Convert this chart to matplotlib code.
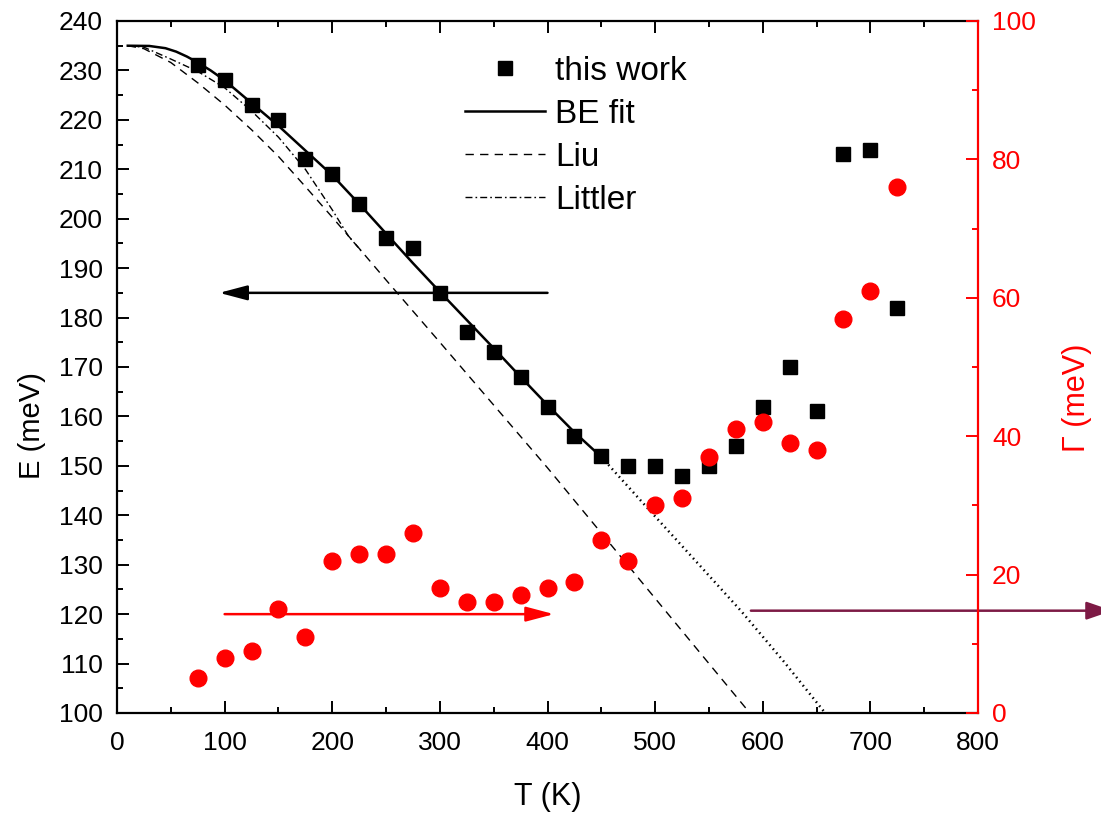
import matplotlib
matplotlib.use("Agg")
import matplotlib.pyplot as plt
from matplotlib.ticker import MultipleLocator

plt.rcParams['font.family'] = ['Liberation Sans', 'DejaVu Sans']

# measured peak energy and broadening vs temperature
T_exp = [75, 100, 125, 150, 175, 200, 225, 250, 275, 300, 325, 350, 375, 400,
         425, 450, 475, 500, 525, 550, 575, 600, 625, 650, 675, 700, 725]
E_exp = [231, 228, 223, 220, 212, 209, 203, 196, 194, 185, 177, 173, 168, 162,
         156, 152, 150, 150, 148, 150, 154, 162, 170, 161, 213, 214, 182]
G_exp = [5, 8, 9, 15, 11, 22, 23, 23, 26, 18, 16, 16, 17, 18,
         19, 25, 22, 30, 31, 37, 41, 42, 39, 38, 57, 61, 76]

# Bose-Einstein fit (solid part) and its extrapolation (dotted)
T_be = [10, 30, 45, 55, 65, 75, 87, 100, 125, 150, 175, 200, 225, 250, 275,
        300, 325, 350, 375, 400, 425, 450]
E_be = [235, 234.95, 234.5, 233.8, 232.8, 231.6, 230, 228, 223.4, 218.8, 213.8,
        208.8, 203, 197, 191, 185.2, 179.5, 173.8, 168, 162.3, 156.8, 151.8]
T_ext = [450, 494, 540, 580, 620, 658]
E_ext = [151.8, 141.2, 130.2, 120.6, 110.3, 100]

# literature curves
T_liu = [10, 25, 50, 75, 100, 125, 150, 175, 200, 225, 250, 275, 300, 350,
         400, 450, 500, 550, 588]
E_liu = [235, 234.4, 231.6, 227.5, 223, 218, 212.6, 206.5, 200.3, 194, 187.6,
         181.3, 175, 162.3, 149.6, 136.4, 123.2, 110, 100]
T_lit = [10, 25, 50, 75, 100, 125, 150, 175, 200, 215, 228]
E_lit = [235, 234.7, 232.3, 229.8, 226.5, 221.8, 216.5, 210, 201.8, 196.5, 193.2]

RED = '#ff0000'
PURPLE = '#7d1a45'

fig = plt.figure(figsize=(11.01, 8.14), dpi=100)
ax = fig.add_axes([117 / 1101, 1 - 713 / 814, 861 / 1101, 692 / 814])
ax2 = ax.twinx()

ax.plot(T_exp, E_exp, 's', color='k', ms=10.5, label='this work')
ax.plot(T_be, E_be, '-', color='k', lw=1.8, label='BE fit')
ax.plot(T_ext, E_ext, color='k', lw=1.8, linestyle=(0, (0.6, 1.5)))
ax.plot(T_liu, E_liu, color='k', lw=1.0, linestyle=(0, (6, 4.5)), label='Liu')
ax.plot(T_lit, E_lit, color='k', lw=1.0, linestyle=(0, (5, 2.2, 1.2, 2.2)),
        label='Littler')

ax2.plot(T_exp, G_exp, 'o', color=RED, ms=12)

# arrows pointing each data set to its axis
ax.annotate('', xy=(95, 185), xytext=(400, 185),
            arrowprops=dict(arrowstyle='-|>,head_length=17,head_width=4.5',
                            color='k', lw=1.8, mutation_scale=1,
                            shrinkA=0, shrinkB=0))
ax.annotate('', xy=(406, 120), xytext=(100, 120),
            arrowprops=dict(arrowstyle='-|>,head_length=17,head_width=4.5',
                            color=RED, lw=1.8, mutation_scale=1,
                            shrinkA=0, shrinkB=0))
ax.annotate('', xy=(925, 120.7), xytext=(589, 120.7), annotation_clip=False,
            arrowprops=dict(arrowstyle='-|>,head_length=16,head_width=5.5',
                            color=PURPLE, lw=1.8, mutation_scale=1,
                            shrinkA=0, shrinkB=0))

ax.set_xlim(0, 800)
ax.set_ylim(100, 240)
ax2.set_ylim(0, 100)

ax.xaxis.set_major_locator(MultipleLocator(100))
ax.xaxis.set_minor_locator(MultipleLocator(50))
ax.yaxis.set_major_locator(MultipleLocator(10))
ax.yaxis.set_minor_locator(MultipleLocator(5))
ax2.yaxis.set_major_locator(MultipleLocator(20))
ax2.yaxis.set_minor_locator(MultipleLocator(10))

ax.tick_params(which='both', direction='in', top=True, right=False,
               width=1.4, labelsize=19, color='k')
ax.tick_params(which='major', length=8.5)
ax.tick_params(which='minor', length=4.5)
ax.tick_params(axis='y', pad=10)
ax.tick_params(axis='x', pad=13)
ax2.tick_params(which='both', direction='in', width=1.4, labelsize=19,
                color=RED, labelcolor=RED, pad=10)
ax2.tick_params(which='major', length=8.5)
ax2.tick_params(which='minor', length=4.5)

for side in ['left', 'bottom', 'top']:
    ax.spines[side].set_linewidth(1.6)
ax2.spines['right'].set_color(RED)
ax2.spines['right'].set_linewidth(1.6)
for side in ['left', 'bottom', 'top']:
    ax2.spines[side].set_visible(False)
ax.spines['right'].set_visible(False)

ax.set_xlabel('T (K)', fontsize=22)
ax.set_ylabel('E (meV)', fontsize=21)
ax2.set_ylabel('Γ (meV)', fontsize=22, color=RED)
ax.xaxis.set_label_coords(0.5006, -0.099)
ax.yaxis.set_label_coords(-0.083, 0.415)
ax2.yaxis.set_label_coords(1.097, 0.455)

ax.legend(loc='upper left', bbox_to_anchor=(0.404, 0.950), frameon=False,
          fontsize=24, handlelength=2.4, handletextpad=0.3, labelspacing=0.36,
          borderpad=0, borderaxespad=0, numpoints=1)

fig.savefig('out.png', dpi=100)
